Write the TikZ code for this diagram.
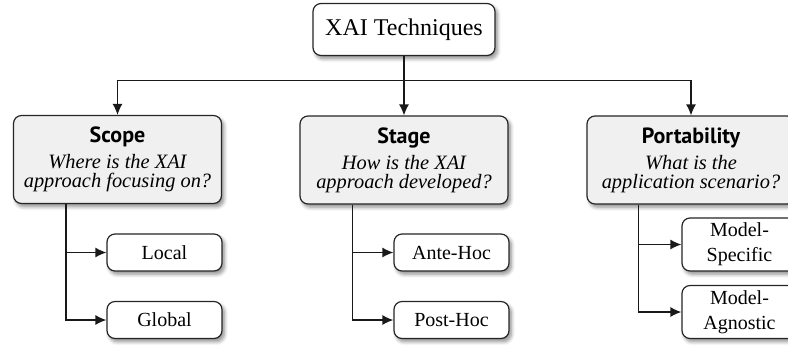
\documentclass[tikz,border=0pt]{standalone}
\usepackage{fontspec}
\setmainfont{Liberation Serif}
\newfontfamily\headfont{PT Sans}
\usetikzlibrary{arrows.meta,shadows.blur}

\begin{document}
\begin{tikzpicture}[x=0.5pt, y=-0.5pt,
        box/.style={draw=black!85, line width=0.6pt, rounded corners=4pt, fill=white,
            align=center, inner sep=1pt,
            blur shadow={shadow xshift=1.2pt, shadow yshift=-1.6pt, shadow blur steps=6, shadow opacity=45}},
        catbox/.style={box, fill=black!6, minimum width=104pt, minimum height=44pt,
            font=\fontsize{10.2}{9.6}\selectfont},
        leafbox/.style={box, minimum width=57.5pt, minimum height=18.5pt,
            font=\fontsize{10}{12.5}\selectfont},
        link/.style={line width=0.65pt, draw=black!90},
        arr/.style={link, -{Latex[length=5.5pt, width=5pt]}}]
        \useasboundingbox (0, 0) rectangle (788, 345);
        \clip (0, 0) rectangle (788, 345);

        \node[box, minimum width=91pt, minimum height=26pt, font=\fontsize{12}{14}\selectfont] (xai) at (404, 29.5) {XAI Techniques};

        \node[catbox] (scope) at (117.5, 159.5) {{\headfont\bfseries\fontsize{11}{12}\selectfont Scope}\\[3.4pt]\itshape Where is the XAI\\\itshape approach focusing on?};
        \node[catbox] (stage) at (404, 160) {{\headfont\bfseries\fontsize{11}{12}\selectfont Stage}\\[3.4pt]\itshape How is the XAI\\\itshape approach developed?};
        \node[catbox] (port) at (691, 160) {{\headfont\bfseries\fontsize{11}{12}\selectfont Portability}\\[3.4pt]\itshape What is the\\\itshape application scenario?};

        \node[leafbox] (local) at (164.5, 252.5) {Local};
        \node[leafbox] (global) at (164.5, 320) {Global};
        \node[leafbox] (ante) at (451.5, 252.5) {Ante-Hoc};
        \node[leafbox] (post) at (451.5, 320) {Post-Hoc};
        \node[leafbox, minimum height=26.5pt] (specific) at (739.5, 244.5) {Model-\\Specific};
        \node[leafbox, minimum height=26.5pt] (agnostic) at (739.5, 312) {Model-\\Agnostic};

        % top level split
        \coordinate (bus) at (404, 80.5);
        \draw[link] (xai) -- (bus);
        \draw[arr] (bus) -| (scope);
        \draw[arr] (bus) -- (stage);
        \draw[arr] (bus) -| (port);

        % sub branches
        \coordinate (scopeb) at ([xshift=26.5pt]scope.south west);
        \coordinate (stageb) at ([xshift=26.5pt]stage.south west);
        \coordinate (portb) at ([xshift=26pt]port.south west);
        \draw[arr] (scopeb) |- (local);
        \draw[arr] (scopeb) |- (global);
        \draw[arr] (stageb) |- (ante);
        \draw[arr] (stageb) |- (post);
        \draw[arr] (portb) |- (specific);
        \draw[arr] (portb) |- (agnostic);
    \end{tikzpicture}
\end{document}
